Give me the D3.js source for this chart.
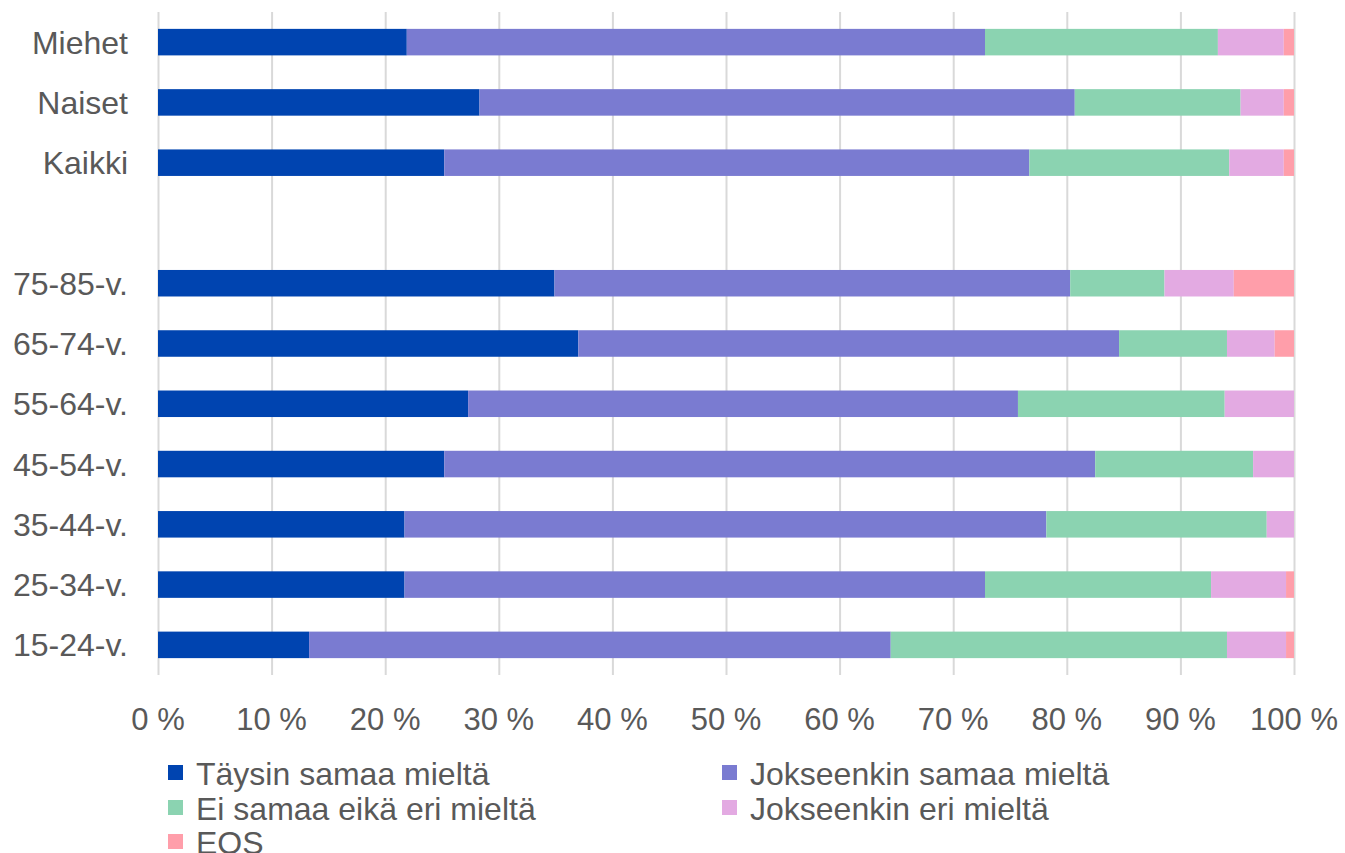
<!DOCTYPE html>
<html><head>
<meta charset="utf-8">
<title>Mielipiteet ryhmittäin</title>
<script src="https://d3js.org/d3.v7.min.js"></script>
<style>
  body { margin: 0; background: #fff; }
  svg text { font-family: "Liberation Sans", Arial, sans-serif; fill: #595959; }
  .gridlines line { stroke: #d9d9d9; stroke-width: 2; }
  .gridlines .domain { stroke: none; }
</style>
</head>
<body>
<svg id="chart" width="1345" height="853"></svg>
<script>

// rows, top to bottom (" " is the empty spacer row)
const categories = ["Miehet", "Naiset", "Kaikki", "75-85-v.", "65-74-v.", "55-64-v.", "45-54-v.", "35-44-v.", "25-34-v.", "15-24-v."];
const rowOrder = ["Miehet", "Naiset", "Kaikki", " ", "75-85-v.", "65-74-v.", "55-64-v.", "45-54-v.", "35-44-v.", "25-34-v.", "15-24-v."];

const seriesNames = ["Täysin samaa mieltä", "Jokseenkin samaa mieltä", "Ei samaa eikä eri mieltä", "Jokseenkin eri mieltä", "EOS"];
const seriesColors = ["#0044b0", "#7a7bd1", "#8bd3b1", "#e3aae2", "#ff9eaa"];

// percentages per category, same order as categories
const taysinSamaa     = [21.9, 28.3, 25.2, 34.9, 37.0, 27.3, 25.2, 21.7, 21.7, 13.3];
const jokseenkinSamaa = [50.9, 52.4, 51.5, 45.4, 47.6, 48.4, 57.3, 56.5, 51.1, 51.2];
const eiSamaaEikaEri  = [20.5, 14.6, 17.6,  8.3,  9.5, 18.2, 13.9, 19.4, 19.9, 29.6];
const jokseenkinEri   = [ 5.8,  3.8,  4.8,  6.1,  4.2,  6.1,  3.6,  2.4,  6.6,  5.2];
const eos             = [ 0.9,  0.9,  0.9,  5.3,  1.7,  0.0,  0.0,  0.0,  0.7,  0.7];

const xTicks = [0, 10, 20, 30, 40, 50, 60, 70, 80, 90, 100];

const svg = d3.select("svg#chart");
const margin = {top: 12, left: 158, right: 51, bottom: 178};
const width = +svg.attr("width");
const height = +svg.attr("height");

const xScale = d3.scaleLinear().domain([0, 100]).range([margin.left, width - margin.right]);
const yScale = d3.scaleBand().domain(rowOrder)
                 .range([margin.top, height - margin.bottom])
                 .paddingInner(0.56).paddingOuter(0.28);

// build table for stacking
const table = categories.map((c, i) => ({
  cat: c,
  s0: taysinSamaa[i], s1: jokseenkinSamaa[i], s2: eiSamaaEikaEri[i], s3: jokseenkinEri[i], s4: eos[i]
}));
const stacked = d3.stack().keys(["s0", "s1", "s2", "s3", "s4"])(table);

// gridlines
let grid = d3.axisBottom(xScale).tickValues(xTicks)
             .tickSize(-(height - margin.bottom - margin.top)).tickFormat("");
svg.append("g")
  .attr("class", "gridlines")
  .attr("transform", "translate(0," + (height - margin.bottom) + ")")
  .call(grid);

// bars
let layers = svg.append("g").selectAll("g")
  .data(stacked)
  .join("g")
  .attr("fill", (d, i) => seriesColors[i]);

layers.selectAll("rect")
  .data(d => d)
  .join("rect")
  .attr("x", d => xScale(d[0]))
  .attr("width", d => Math.max(0, xScale(d[1]) - xScale(d[0])))
  .attr("y", d => yScale(d.data.cat))
  .attr("height", yScale.bandwidth());

// category labels
svg.append("g").selectAll("text")
  .data(categories)
  .join("text")
  .attr("x", margin.left - 30)
  .attr("y", d => yScale(d) + yScale.bandwidth() / 2)
  .attr("dy", "0.36em")
  .attr("text-anchor", "end")
  .style("font-size", "32px")
  .text(d => d);

// x tick labels
svg.append("g").selectAll("text")
  .data(xTicks)
  .join("text")
  .attr("x", d => xScale(d))
  .attr("y", 730)
  .attr("text-anchor", "middle")
  .style("font-size", "31px")
  .text(d => d + " %");

// legend (last row runs off the bottom edge, as in the original)
const legendPos = [[168, 773], [722, 773], [168, 808], [722, 808], [168, 842]];
let legend = svg.append("g").selectAll("g")
  .data(seriesNames)
  .join("g")
  .attr("transform", (d, i) => "translate(" + legendPos[i][0] + "," + legendPos[i][1] + ")");
legend.append("rect")
  .attr("x", 0).attr("y", -8)
  .attr("width", 15).attr("height", 15)
  .attr("fill", (d, i) => seriesColors[i]);
legend.append("text")
  .attr("x", 28)
  .attr("dy", "0.36em")
  .style("font-size", "32px")
  .text(d => d);

</script>
</body>
</html>
